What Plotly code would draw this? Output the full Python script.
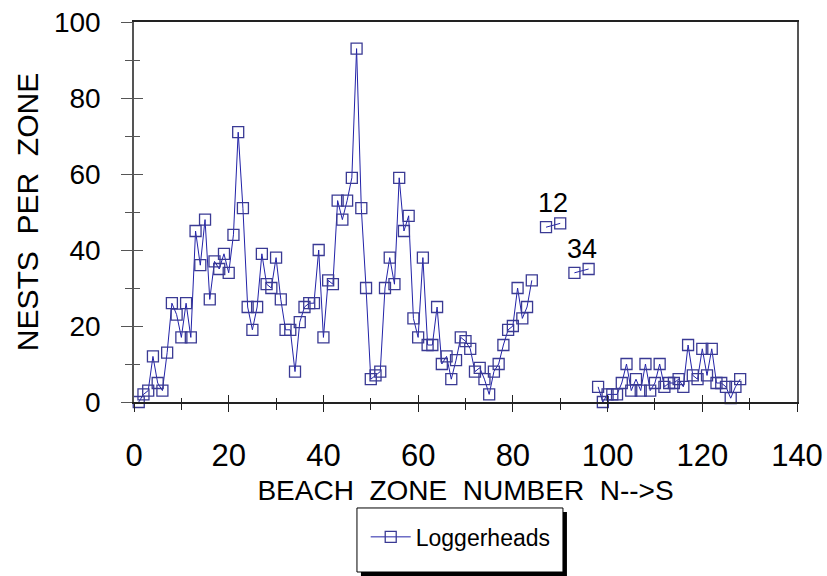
import plotly.graph_objects as go

# ---- data ----
zones = list(range(1, 85)) + [None, 87, 90, None, 93, 96, None] + list(range(98, 129))
nests = [0, 2, 3, 12, 5, 3, 13, 26, 23, 17,
         26, 17, 45, 36, 48, 27, 37, 35, 39, 34,
         44, 71, 51, 25, 19, 25, 39, 31, 30, 38,
         27, 19, 19, 8, 21, 25, 26, 26, 40, 17,
         32, 31, 53, 48, 53, 59, 93, 51, 30, 6,
         7, 8, 30, 38, 31, 59, 45, 49, 22, 17,
         38, 15, 15, 25, 10, 12, 6, 11, 17, 16,
         14, 8, 9, 6, 2, 8, 10, 15, 19, 20,
         30, 22, 25, 32,
         None, 46, 47, None, 34, 35, None,
         4, 0, 2, 2, 2, 5, 10, 3, 6, 3,
         10, 3, 5, 10, 4, 5, 5, 6, 4, 15,
         7, 6, 14, 7, 14, 5, 5, 4, 1, 4, 6]

# point labels: each text sits above a pair of isolated zones
label_texts = ["12", "34"]
label_zone_pairs = [[87, 90], [93, 96]]

series_name = "Loggerheads"
x_title = "BEACH\u00a0\u00a0ZONE\u00a0\u00a0NUMBER\u00a0\u00a0N-->S"
y_title = "NESTS\u00a0\u00a0PER\u00a0\u00a0ZONE"

FONT = "Arial, Liberation Sans, sans-serif"
LINE_COLOR = "#2222a8"
MARKER_COLOR = "#3a3a94"
AXIS_COLOR = "#222222"

fig = go.Figure()
fig.add_trace(go.Scatter(
    x=zones, y=nests, name=series_name, mode="lines+markers",
    line=dict(color=LINE_COLOR, width=1),
    marker=dict(symbol="square-open", size=11, color=MARKER_COLOR,
                line=dict(width=1.3, color=MARKER_COLOR)),
    connectgaps=False, cliponaxis=False,
))
# helper trace carrying the inside half of the crossing ticks
fig.add_trace(go.Scatter(x=zones, y=nests, xaxis="x2", yaxis="y2",
                         mode="none", showlegend=False, hoverinfo="skip"))

for t, pair in zip(label_texts, label_zone_pairs):
    vals = [nests[zones.index(z)] for z in pair]
    fig.add_annotation(x=sum(pair) / len(pair), y=max(vals), text=t,
                       showarrow=False, xanchor="center", yanchor="bottom",
                       yshift=3, font=dict(family=FONT, size=27, color="black"))

common_axis = dict(showgrid=False, zeroline=False)
fig.update_layout(
    width=827, height=576,
    margin=dict(l=134, r=30, t=22, b=174, autoexpand=False),
    paper_bgcolor="white", plot_bgcolor="white",
    font=dict(family=FONT, color="black"),
    xaxis=dict(range=[0, 140], dtick=20, tick0=0, ticks="outside", ticklen=8,
               tickwidth=1.3, tickcolor=AXIS_COLOR,
               minor=dict(dtick=10, ticks="outside", ticklen=6, tickcolor=AXIS_COLOR, tickwidth=1.3),
               showline=True, linecolor=AXIS_COLOR, linewidth=1.5, mirror=True,
               tickfont=dict(family=FONT, size=31, color="black"),
               ticklabelstandoff=17,
               title=dict(text=x_title, standoff=8,
                          font=dict(family=FONT, size=28, color="black")),
               **common_axis),
    yaxis=dict(range=[0, 100], dtick=20, tick0=0, ticks="outside", ticklen=11,
               tickwidth=1.3, tickcolor="#555555",
               minor=dict(dtick=10, ticks="outside", ticklen=7, tickcolor="#555555", tickwidth=1.3),
               showline=True, linecolor="#555555", linewidth=1.5, mirror=True,
               tickfont=dict(family=FONT, size=28, color="black"),
               ticklabelstandoff=15,
               title=dict(text=y_title, standoff=6,
                          font=dict(family=FONT, size=30, color="black")),
               **common_axis),
    xaxis2=dict(range=[0, 140], overlaying="x", anchor="y2", side="bottom",
                dtick=20, tick0=0, ticks="inside", ticklen=7, tickwidth=1.3,
                tickcolor=AXIS_COLOR, showticklabels=False, showline=False,
                minor=dict(dtick=10, ticks="inside", ticklen=4, tickcolor=AXIS_COLOR, tickwidth=1.3),
                **common_axis),
    yaxis2=dict(range=[0, 100], overlaying="y", anchor="x2", side="left",
                dtick=20, tick0=0, ticks="inside", ticklen=9, tickwidth=1.3,
                tickcolor="#555555", showticklabels=False, showline=False,
                minor=dict(dtick=10, ticks="inside", ticklen=6, tickcolor="#555555", tickwidth=1.3),
                **common_axis),
    showlegend=True,
    legend=dict(x=0.3495, y=-0.355, xanchor="left", yanchor="middle",
                bgcolor="rgba(0,0,0,0)", borderwidth=0,
                font=dict(family=FONT, size=23, color="black"),
                itemwidth=40),
)

# legend frame with drop shadow (paper coordinates)
fig.add_shape(type="rect", xref="paper", yref="paper",
              x0=0.3423, x1=0.6530, y0=-0.4579, y1=-0.2895,
              fillcolor="black", line=dict(width=0), layer="below")
fig.add_shape(type="rect", xref="paper", yref="paper",
              x0=0.3363, x1=0.6470, y0=-0.4474, y1=-0.2789,
              fillcolor="white", line=dict(color="black", width=1), layer="below")

fig.write_html("out.html", config={"displayModeBar": False},
               post_script="document.body.style.margin='0px';document.body.style.overflow='hidden';")
